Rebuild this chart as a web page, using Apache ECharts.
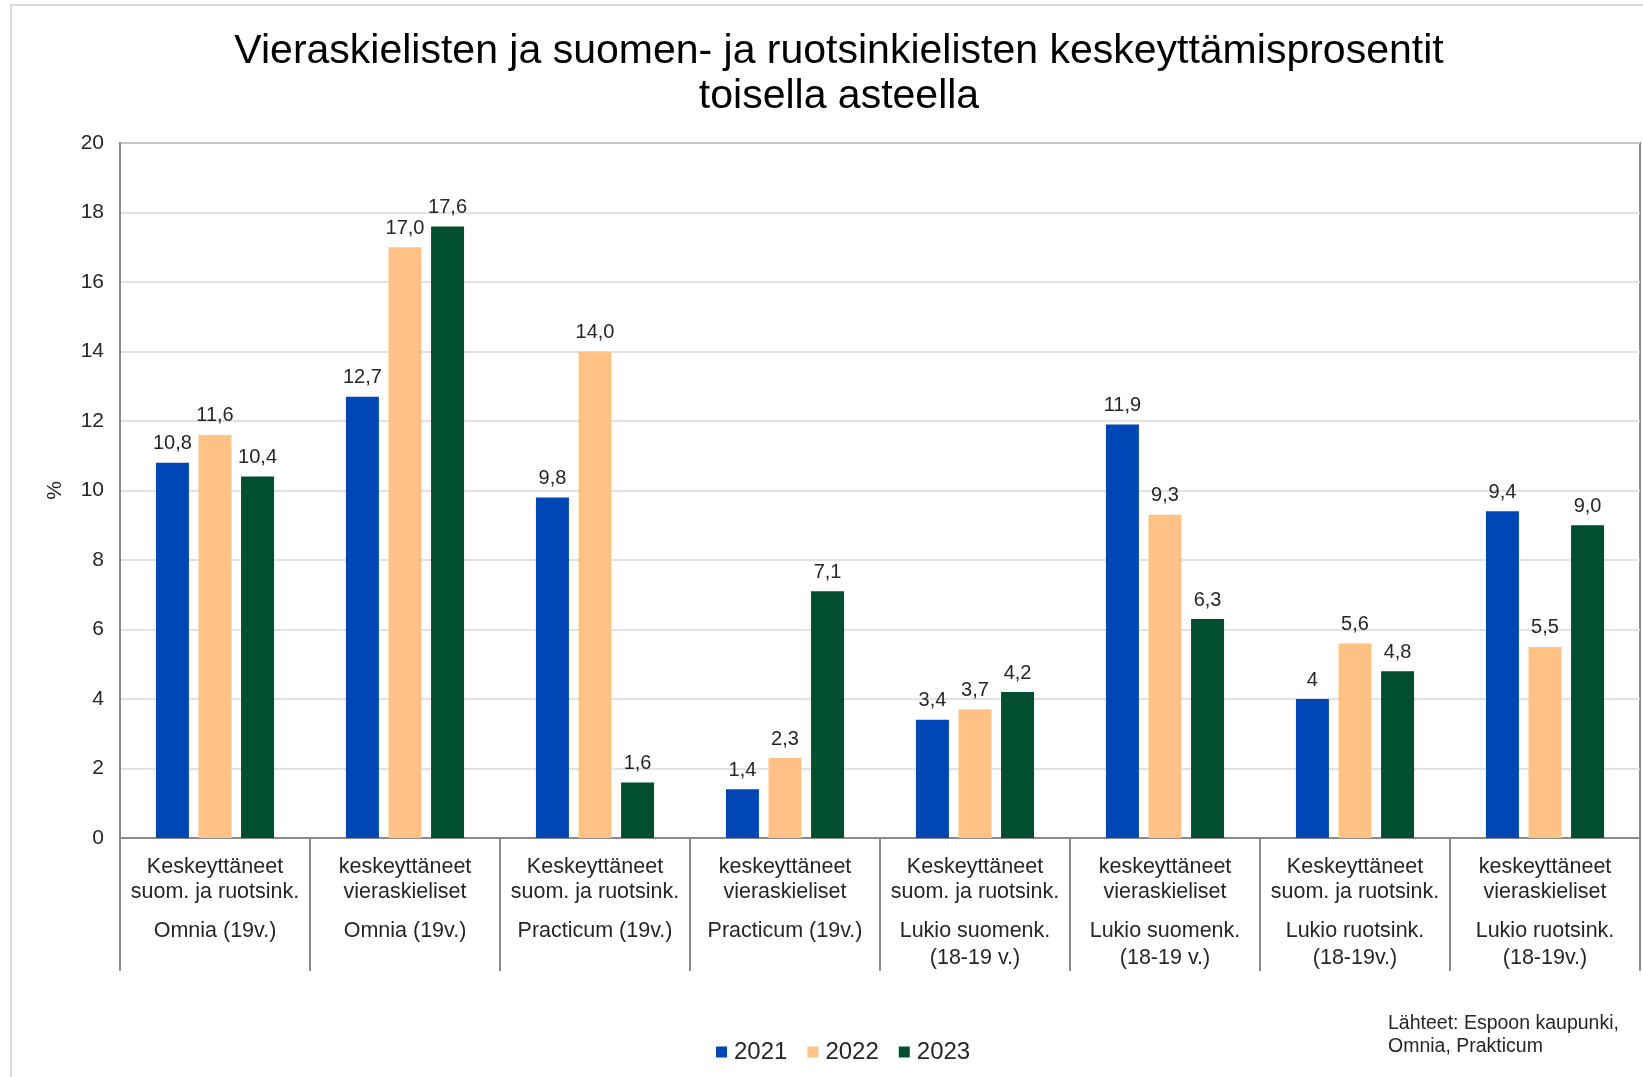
<!DOCTYPE html>
<html>
<head>
<meta charset="utf-8">
<script src="https://cdn.jsdelivr.net/npm/echarts@6/dist/echarts.min.js"></script>
<style>
html,body{margin:0;padding:0;background:#fff;}
#chart{width:1643px;height:1077px;}
</style>
</head>
<body>
<div id="chart"></div>
<script>
// ---- data ----
const catLine1 = ['Keskeyttäneet','keskeyttäneet','Keskeyttäneet','keskeyttäneet','Keskeyttäneet','keskeyttäneet','Keskeyttäneet','keskeyttäneet'];
const catLine2 = ['suom. ja ruotsink.','vieraskieliset','suom. ja ruotsink.','vieraskieliset','suom. ja ruotsink.','vieraskieliset','suom. ja ruotsink.','vieraskieliset'];
const catGroup = ['Omnia (19v.)','Omnia (19v.)','Practicum (19v.)','Practicum (19v.)','Lukio suomenk.|(18-19 v.)','Lukio suomenk.|(18-19 v.)','Lukio ruotsink.|(18-19v.)','Lukio ruotsink.|(18-19v.)'];
const seriesNames = ['2021','2022','2023'];
const values2021 = [10.8, 12.7, 9.8, 1.4, 3.4, 11.9, 4, 9.4];
const values2022 = [11.6, 17.0, 14.0, 2.3, 3.7, 9.3, 5.6, 5.5];
const values2023 = [10.4, 17.6, 1.6, 7.1, 4.2, 6.3, 4.8, 9.0];
const decimals2021 = [1,1,1,1,1,1,0,1];
const decimals2022 = [1,1,1,1,1,1,1,1];
const decimals2023 = [1,1,1,1,1,1,1,1];
const yTicks = {min:0, max:20, interval:2};
const titleText = 'Vieraskielisten ja suomen- ja ruotsinkielisten keskeyttämisprosentit\ntoisella asteella';
const sourceText = 'Lähteet: Espoon kaupunki,\nOmnia, Prakticum';

const FONT = '"Liberation Sans", Arial, sans-serif';
const colors = ['#0046B5','#FFC184','#024E30'];
const categories = catLine1.map((_, i) => String(i));

function fmt(v, d){ return v.toFixed(d).replace('.', ','); }

function makeSeries(name, vals, decs, color){
  return {
    name: name,
    type: 'bar',
    data: vals,
    barWidth: 33,
    barGap: '29%',
    barCategoryGap: '38%',
    itemStyle: {color: color},
    label: {
      show: true,
      position: 'top',
      distance: 9,
      fontFamily: FONT,
      fontSize: 20,
      color: '#262626',
      formatter: p => fmt(p.value, decs[p.dataIndex])
    }
  };
}

const chart = echarts.init(document.getElementById('chart'));
chart.setOption({
  backgroundColor: '#fff',
  animation: false,
  title: {
    text: titleText,
    left: 834,
    textAlign: 'center',
    top: 24,
    textStyle: {fontFamily: FONT, fontSize: 41, fontWeight: 'normal', color: '#000', lineHeight: 45}
  },
  legend: {
    data: seriesNames,
    left: 711,
    top: 1035,
    itemWidth: 11,
    itemHeight: 11,
    itemGap: 20,
    icon: 'rect',
    textStyle: {fontFamily: FONT, fontSize: 24, color: '#262626', padding: [0,0,0,2]}
  },
  grid: {
    left: 120, right: 3, top: 143, bottom: 239,
    show: true, borderColor: '#8a8a8a', borderWidth: 2
  },
  xAxis: {
    type: 'category',
    data: categories,
    axisLine: {lineStyle: {color: '#8a8a8a', width: 2}},
    axisTick: {show: true, length: 133, lineStyle: {color: '#8a8a8a', width: 2}},
    axisLabel: {
      interval: 0,
      margin: 17,
      formatter: (v, i) => {
        const g = catGroup[i].split('|').map(s => '{b|' + s + '}').join('\n');
        return '{a|' + catLine1[i] + '}\n{a|' + catLine2[i] + '}\n{gap| }\n' + g;
      },
      rich: {
        a: {fontFamily: FONT, fontSize: 21.5, lineHeight: 25, color: '#262626'},
        b: {fontFamily: FONT, fontSize: 21.5, lineHeight: 27, color: '#262626'},
        gap: {fontSize: 6, lineHeight: 13}
      }
    }
  },
  yAxis: {
    type: 'value',
    min: yTicks.min, max: yTicks.max, interval: yTicks.interval,
    name: '%',
    nameLocation: 'middle',
    nameRotate: 90,
    nameGap: 54,
    nameTextStyle: {fontFamily: FONT, fontSize: 21, color: '#262626'},
    axisLine: {show: true, lineStyle: {color: '#8a8a8a', width: 2}},
    axisTick: {show: false},
    splitLine: {lineStyle: {color: '#d9d9d9', width: 1.5}},
    axisLabel: {fontFamily: FONT, fontSize: 21, color: '#262626', margin: 16}
  },
  graphic: [
    {
      type: 'rect',
      shape: {x: 11, y: 5, width: 1700, height: 1200},
      style: {fill: 'none', stroke: '#d9d9d9', lineWidth: 2},
      silent: true
    },
    {
      type: 'text',
      left: 1388,
      top: 1012,
      style: {text: sourceText, fontFamily: FONT, fontSize: 19.5, lineHeight: 23, fill: '#262626'}
    }
  ],
  series: [
    makeSeries(seriesNames[0], values2021, decimals2021, colors[0]),
    makeSeries(seriesNames[1], values2022, decimals2022, colors[1]),
    makeSeries(seriesNames[2], values2023, decimals2023, colors[2])
  ]
});
</script>
</body>
</html>
